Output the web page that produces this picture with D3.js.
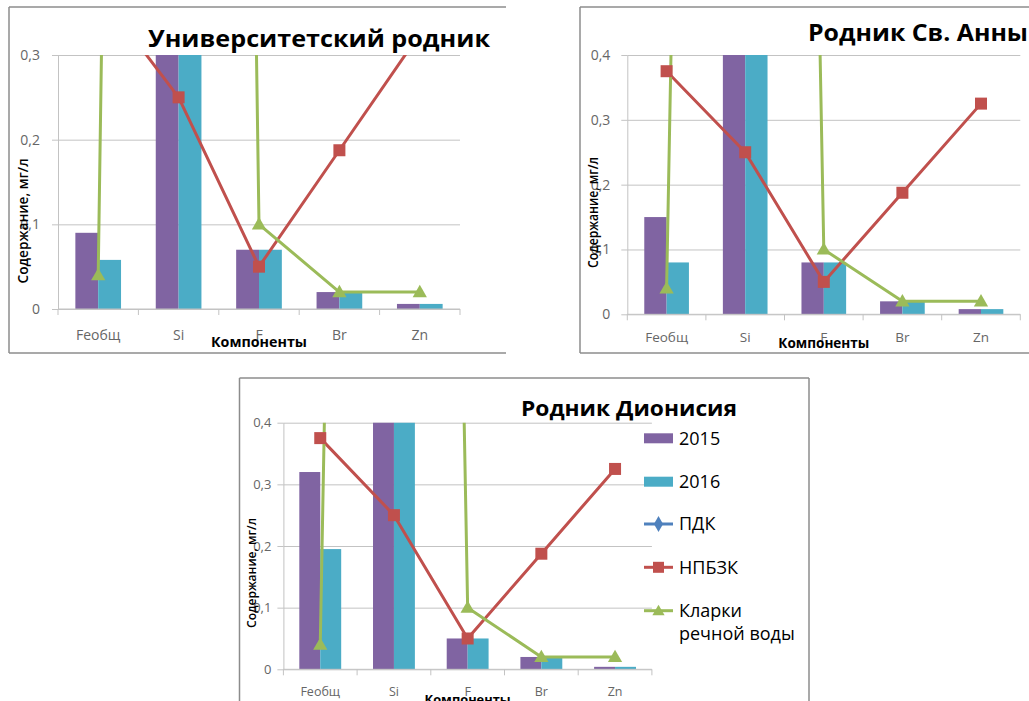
<!DOCTYPE html>
<html>
<head>
<meta charset="utf-8">
<script src="https://cdn.jsdelivr.net/npm/d3@7"></script>
<style>
  body { margin: 0; background: #fff; }
  svg { display: block; }
</style>
</head>
<body>
<svg id="chart" width="1029" height="701"></svg>
<script>
// Components measured at each spring
const categories = ["Feобщ", "Si", "F", "Br", "Zn"];

// Measured content, mg/l (silicon runs far above the visible scale)
const univ2015 = [0.09, 4.6, 0.07, 0.02, 0.006];
const univ2016 = [0.058, 4.9, 0.07, 0.02, 0.006];
const anna2015 = [0.15, 5.2, 0.08, 0.02, 0.008];
const anna2016 = [0.08, 5.5, 0.08, 0.02, 0.008];
const dion2015 = [0.32, 5.0, 0.05, 0.02, 0.004];
const dion2016 = [0.195, 5.3, 0.05, 0.02, 0.004];

// Reference levels
const pdk = [null, null, null, null, null];
const npbzk = [0.375, 0.25, 0.05, 0.1875, 0.325];
const clarke = [0.04, 6.5, 0.1, 0.02, 0.02];

// Axis ticks
const yTicksLow = [0, 0.1, 0.2, 0.3];
const yTicksHigh = [0, 0.1, 0.2, 0.3, 0.4];

// Series names and titles
const barNames = ["2015", "2016"];
const lineNames = ["ПДК", "НПБЗК", "Кларки речной воды"];
const titles = ["Университетский родник", "Родник Св. Анны", "Родник Дионисия"];
const xTitle = "Компоненты";
const yTitle = "Содержание, мг/л";

const colors = {
  y2015: "#8064A2", y2016: "#4BACC6",
  pdk: "#4F81BD", npbzk: "#C0504D", clarke: "#9BBB59",
  grid: "#C3C3C3", frame: "#8C8C8C", tick: "#666666"
};

const svg = d3.select("#chart");
const fmt = d => d === 0 ? "0" : d3.format(".1f")(d).replace(".", ",");
const bodyFont = "'Open Sans', 'Liberation Sans', Arial, sans-serif";

const panels = [
  {
    id: "p1", title: titles[0], bars: [univ2015, univ2016], max: 0.3, ticks: yTicksLow,
    frame: { l: 9, t: 7, r: 506, b: 353, right: false, bottom: true },
    plot: { x0: 58, x1: 460, yTop: 55, y0: 309 },
    titlePos: { x: 148, y: 47, w: 342, size: 24 },
    tickGap: 18, tickSize: 14, catSize: 14, catY: 340,
    xTitlePos: { x: 259, y: 346.5, w: 96, size: 14 },
    yTitlePos: { x: 23, y: 221, w: 125, size: 14 },
    legend: false
  },
  {
    id: "p2", title: titles[1], bars: [anna2015, anna2016], max: 0.4, ticks: yTicksHigh,
    frame: { l: 580, t: 7, r: 1029, b: 353, right: false, bottom: true },
    plot: { x0: 627.3, x1: 1020.3, yTop: 55, y0: 314.3 },
    titlePos: { x: 808, y: 41, w: 220, size: 23 },
    tickGap: 17, tickSize: 14, catSize: 13.5, catY: 342,
    xTitlePos: { x: 823.8, y: 347.5, w: 91, size: 14 },
    yTitlePos: { x: 593, y: 212.5, w: 111, size: 14 },
    legend: false
  },
  {
    id: "p3", title: titles[2], bars: [dion2015, dion2016], max: 0.4, ticks: yTicksHigh,
    frame: { l: 239.5, t: 378, r: 809, b: 720, right: true, bottom: false },
    plot: { x0: 283.4, x1: 651.9, yTop: 422.7, y0: 669.3 },
    titlePos: { x: 521, y: 416, w: 216, size: 22 },
    tickGap: 12, tickSize: 13, catSize: 12.5, catY: 695.5,
    xTitlePos: { x: 467.6, y: 704, w: 86, size: 13 },
    yTitlePos: { x: 251.5, y: 573, w: 110, size: 13 },
    legend: { x: 644, w: 29, textX: 679, rows: [438.3, 481.7, 524, 567.3, 610.7], size: 18, line2: 634 }
  }
];

function marker(sel, kind, cx, cy, s) {
  if (kind === "square") {
    sel.append("rect").attr("x", cx - s / 2).attr("y", cy - s / 2)
      .attr("width", s).attr("height", s).attr("fill", colors.npbzk);
  } else if (kind === "triangle") {
    const sym = d3.symbol().type(d3.symbolTriangle).size(s * s * 0.45);
    sel.append("path").attr("d", sym()).attr("transform", `translate(${cx},${cy + 1})`)
      .attr("fill", colors.clarke);
  } else if (kind === "diamond") {
    const sym = d3.symbol().type(d3.symbolDiamond).size(s * s * 0.5);
    sel.append("path").attr("d", sym()).attr("transform", `translate(${cx},${cy})`)
      .attr("fill", colors.pdk);
  }
}

function drawPanel(p) {
  const g = svg.append("g").attr("class", p.id);
  const { x0, x1, yTop, y0 } = p.plot;

  // frame
  const f = p.frame;
  const frame = g.append("g").attr("stroke", colors.frame).attr("stroke-width", 1.5).attr("fill", "none");
  frame.append("line").attr("x1", f.l).attr("x2", f.r).attr("y1", f.t).attr("y2", f.t);
  frame.append("line").attr("x1", f.l).attr("x2", f.l).attr("y1", f.t).attr("y2", f.b);
  if (f.bottom) frame.append("line").attr("x1", f.l).attr("x2", f.r).attr("y1", f.b).attr("y2", f.b);
  if (f.right) frame.append("line").attr("x1", f.r).attr("x2", f.r).attr("y1", f.t).attr("y2", f.b);

  const x = d3.scaleBand().domain(categories).range([x0, x1]).padding(0);
  const xb = d3.scaleBand().domain(barNames).range([0, x.bandwidth()]).paddingInner(0).paddingOuter(0.76);
  const y = d3.scaleLinear().domain([0, p.max]).range([y0, yTop]);

  // gridlines
  g.append("g").attr("transform", `translate(${x0},0)`)
    .call(d3.axisLeft(y).tickValues(p.ticks).tickSize(-(x1 - x0)).tickFormat(""))
    .call(a => a.select(".domain").remove())
    .call(a => a.selectAll("line").attr("stroke", colors.grid).attr("stroke-width", 1));

  // y axis
  g.append("g").attr("transform", `translate(${x0},0)`)
    .call(d3.axisLeft(y).tickValues(p.ticks).tickSize(6).tickSizeOuter(0).tickPadding(p.tickGap - 6).tickFormat(fmt))
    .call(a => a.select(".domain").attr("stroke", colors.grid))
    .call(a => a.selectAll("line").attr("stroke", colors.grid))
    .call(a => a.selectAll("text").attr("fill", colors.tick)
      .style("font-family", bodyFont).style("font-size", p.tickSize + "px"));

  const clipId = "clip-" + p.id;
  g.append("clipPath").attr("id", clipId).append("rect")
    .attr("x", x0).attr("y", yTop).attr("width", x1 - x0).attr("height", y0 - yTop);

  // bars
  const barG = g.append("g").attr("clip-path", `url(#${clipId})`);
  p.bars.forEach((vals, si) => {
    barG.selectAll(null).data(categories).join("rect")
      .attr("x", c => x(c) + xb(barNames[si]))
      .attr("width", xb.bandwidth())
      .attr("y", (c, i) => y(vals[i]))
      .attr("height", (c, i) => y0 - y(vals[i]))
      .attr("fill", si === 0 ? colors.y2015 : colors.y2016);
  });

  // x axis: tick marks sit on category boundaries
  g.append("line").attr("x1", x0).attr("x2", x1).attr("y1", y0).attr("y2", y0).attr("stroke", colors.grid);
  const bounds = categories.map(c => x(c)).concat([x1]);
  g.selectAll(null).data(bounds).join("line")
    .attr("x1", d => d).attr("x2", d => d).attr("y1", y0).attr("y2", y0 + 6)
    .attr("stroke", colors.grid);

  g.append("g").attr("transform", `translate(0,${p.catY})`)
    .call(d3.axisBottom(x).tickSize(0).tickPadding(0))
    .call(a => a.select(".domain").remove())
    .call(a => a.selectAll("text").attr("dy", 0).attr("y", 0).attr("fill", colors.tick)
      .style("font-family", bodyFont).style("font-size", p.catSize + "px"));

  // lines
  const cx = c => x(c) + x.bandwidth() / 2;
  const lineGen = vals => d3.line().defined((c, i) => vals[i] != null).x(cx).y((c, i) => y(vals[i]))(categories);
  const lineG = g.append("g").attr("clip-path", `url(#${clipId})`).attr("fill", "none").attr("stroke-width", 3)
    .attr("stroke-linejoin", "round");
  lineG.append("path").attr("d", lineGen(pdk) || null).attr("stroke", colors.pdk);
  lineG.append("path").attr("d", lineGen(npbzk)).attr("stroke", colors.npbzk);
  lineG.append("path").attr("d", lineGen(clarke)).attr("stroke", colors.clarke);

  const mk = g.append("g");
  const inRange = v => v != null && v <= p.max;
  categories.forEach((c, i) => {
    if (inRange(pdk[i])) marker(mk, "diamond", cx(c), y(pdk[i]), 11);
    if (inRange(npbzk[i])) marker(mk, "square", cx(c), y(npbzk[i]), 12);
    if (inRange(clarke[i])) marker(mk, "triangle", cx(c), y(clarke[i]), 14);
  });

  // titles
  g.append("text").text(p.title)
    .attr("x", p.titlePos.x).attr("y", p.titlePos.y)
    .attr("textLength", p.titlePos.w).attr("lengthAdjust", "spacingAndGlyphs")
    .style("font-family", "'Open Sans', 'DejaVu Sans', sans-serif").style("font-weight", "bold")
    .style("font-size", p.titlePos.size + "px").attr("fill", "#000");

  g.append("text").text(xTitle)
    .attr("x", p.xTitlePos.x).attr("y", p.xTitlePos.y).attr("text-anchor", "middle")
    .attr("textLength", p.xTitlePos.w).attr("lengthAdjust", "spacingAndGlyphs")
    .style("font-family", bodyFont).style("font-weight", "bold")
    .style("font-size", p.xTitlePos.size + "px").attr("fill", "#000");

  g.append("text").text(yTitle)
    .attr("transform", `translate(${p.yTitlePos.x},${p.yTitlePos.y}) rotate(-90)`)
    .attr("text-anchor", "middle").attr("dy", "0.35em")
    .attr("textLength", p.yTitlePos.w).attr("lengthAdjust", "spacingAndGlyphs")
    .style("font-family", bodyFont).style("font-weight", 600)
    .style("font-size", p.yTitlePos.size + "px").attr("fill", "#000");

  // legend
  if (p.legend) {
    const L = p.legend;
    const lg = g.append("g");
    const items = [
      { name: barNames[0], type: "bar", color: colors.y2015 },
      { name: barNames[1], type: "bar", color: colors.y2016 },
      { name: lineNames[0], type: "line", color: colors.pdk, mark: "diamond" },
      { name: lineNames[1], type: "line", color: colors.npbzk, mark: "square" },
      { name: lineNames[2], type: "line", color: colors.clarke, mark: "triangle" }
    ];
    items.forEach((it, i) => {
      const ry = L.rows[i];
      if (it.type === "bar") {
        lg.append("rect").attr("x", L.x).attr("y", ry - 5).attr("width", L.w).attr("height", 10).attr("fill", it.color);
      } else {
        lg.append("line").attr("x1", L.x).attr("x2", L.x + L.w).attr("y1", ry).attr("y2", ry)
          .attr("stroke", it.color).attr("stroke-width", 3);
        marker(lg, it.mark, L.x + L.w / 2, ry, it.mark === "square" ? 11 : 12);
      }
      const words = it.name === lineNames[2] ? ["Кларки", "речной воды"] : [it.name];
      words.forEach((w, k) => {
        lg.append("text").text(w).attr("x", L.textX).attr("y", k === 0 ? ry : L.line2).attr("dy", "0.35em")
          .style("font-family", bodyFont).style("font-size", L.size + "px")
          .attr("fill", "#000");
      });
    });
  }
}

panels.forEach(drawPanel);
</script>
</body>
</html>
